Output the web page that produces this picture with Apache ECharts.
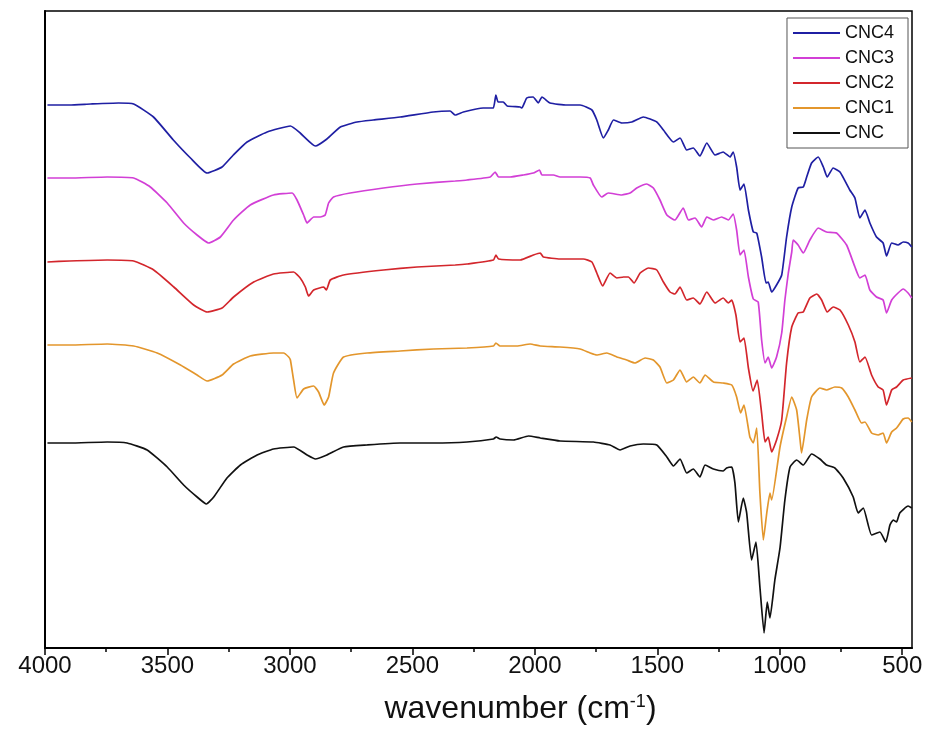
<!DOCTYPE html>
<html><head><meta charset="utf-8">
<script src="https://cdn.jsdelivr.net/npm/echarts@6/dist/echarts.min.js"></script>
<style>html,body{margin:0;padding:0;background:#fff}#c{width:927px;height:740px}</style>
</head><body><div id="c"></div>
<script>
// wavenumber (cm-1), relative transmittance (arbitrary, stacked offsets as in the figure)
const seriesNames = ['CNC4', 'CNC3', 'CNC2', 'CNC1', 'CNC'];
const majorTicks = [4000, 3500, 3000, 2500, 2000, 1500, 1000, 500];
const minorTicks = [3750, 3250, 2750, 2250, 1750, 1250, 750];

const cnc4 = [[3990,543],[3900,543],[3814,544],[3700,545],[3638,544],[3557,531],[3476,508],[3406,490],[3338,475],[3277,481],[3231,493],[3175,506],[3093,516],[2998,522],[2958,515],[2896,502],[2849,509],[2794,521],[2726,526],[2660,528],[2550,531],[2415,536],[2346,537],[2325,533],[2292,536],[2211,540],[2170,540],[2159,553],[2150,546],[2129,546],[2113,542],[2060,541],[2053,540],[2033,550],[2007,551],[1986,545],[1971,551],[1938,545],[1869,543],[1815,543],[1767,538],[1747,528],[1720,510],[1700,518],[1679,528],[1645,525],[1604,526],[1557,531],[1502,526],[1475,518],[1434,506],[1407,510],[1380,498],[1353,500],[1326,492],[1298,505],[1264,493],[1231,496],[1203,491],[1190,496],[1176,481],[1162,458],[1146,464],[1128,438],[1108,416],[1094,415],[1074,391],[1056,365],[1047,366],[1033,356],[1013,363],[992,373],[972,411],[951,441],[925,460],[904,461],[890,471],[870,485],[843,491],[822,481],[806,471],[782,480],[754,476],[714,458],[693,450],[673,430],[652,438],[632,425],[605,411],[578,405],[564,392],[543,405],[517,403],[496,406],[476,405],[461,401]];

const cnc3 = [[3990,470],[3900,470],[3746,471],[3638,470],[3570,461],[3501,445],[3434,425],[3379,413],[3332,405],[3284,411],[3230,428],[3162,443],[3067,453],[2991,455],[2971,448],[2944,433],[2930,425],[2903,431],[2876,431],[2856,433],[2842,445],[2822,451],[2754,455],[2618,460],[2481,464],[2325,467],[2277,468],[2182,471],[2162,476],[2148,471],[2101,471],[2047,473],[2006,475],[1981,478],[1971,473],[1924,473],[1897,471],[1815,471],[1774,470],[1761,463],[1727,451],[1700,455],[1645,453],[1611,455],[1584,460],[1543,464],[1516,460],[1489,448],[1461,433],[1428,428],[1394,440],[1373,428],[1346,430],[1319,421],[1298,431],[1271,428],[1237,431],[1210,428],[1190,434],[1176,418],[1162,393],[1146,398],[1128,371],[1108,349],[1088,346],[1074,308],[1060,285],[1047,291],[1033,280],[1013,291],[992,315],[979,348],[965,375],[951,396],[945,408],[925,403],[904,395],[877,408],[843,420],[809,416],[768,415],[727,403],[693,381],[673,370],[652,373],[632,358],[605,351],[578,348],[564,335],[543,348],[517,355],[496,359],[476,355],[461,350]];

const cnc2 = [[3990,386],[3900,387],[3746,388],[3638,387],[3556,378],[3474,361],[3393,343],[3338,336],[3277,340],[3230,351],[3148,366],[3067,374],[2985,376],[2958,370],[2937,361],[2924,352],[2903,358],[2862,361],[2851,358],[2835,368],[2781,373],[2618,378],[2481,381],[2325,383],[2277,384],[2169,388],[2159,393],[2148,389],[2060,388],[2006,393],[1978,395],[1965,391],[1897,389],[1802,389],[1767,386],[1747,375],[1723,362],[1693,375],[1665,370],[1638,371],[1618,371],[1595,365],[1570,375],[1536,380],[1502,378],[1475,366],[1448,356],[1428,354],[1407,361],[1380,348],[1353,350],[1326,344],[1298,356],[1264,345],[1231,350],[1210,345],[1196,348],[1179,333],[1162,306],[1146,310],[1128,280],[1109,257],[1092,268],[1074,235],[1060,206],[1047,211],[1033,196],[1013,208],[992,228],[972,285],[951,321],[925,335],[904,336],[877,350],[849,354],[829,348],[806,336],[782,341],[754,338],[720,323],[693,306],[673,286],[652,291],[625,273],[598,261],[578,258],[564,243],[543,258],[523,261],[496,268],[461,270]];

const cnc1 = [[3990,303],[3900,303],[3746,304],[3638,302],[3542,295],[3447,283],[3379,273],[3338,267],[3277,273],[3230,284],[3162,292],[3067,295],[3026,295],[3005,291],[2998,288],[2985,268],[2971,250],[2944,259],[2903,262],[2883,256],[2860,243],[2842,251],[2822,275],[2781,291],[2685,295],[2550,297],[2414,299],[2277,300],[2169,302],[2159,305],[2142,302],[2073,302],[2019,304],[1978,302],[1897,301],[1815,299],[1774,295],[1747,293],[1706,295],[1665,291],[1625,288],[1591,285],[1550,290],[1516,288],[1489,281],[1461,265],[1434,268],[1407,278],[1380,266],[1353,271],[1326,265],[1305,273],[1271,266],[1231,265],[1196,263],[1176,251],[1160,235],[1146,243],[1122,211],[1108,205],[1094,220],[1081,155],[1067,108],[1053,135],[1040,155],[1033,148],[999,201],[972,231],[951,251],[931,238],[917,208],[911,195],[890,228],[870,251],[836,260],[809,258],[775,261],[747,260],[720,251],[693,238],[666,225],[652,226],[625,215],[598,213],[578,215],[564,205],[543,216],[523,220],[496,229],[476,230],[461,226]];

const cnc = [[3990,205],[3900,205],[3746,206],[3665,205],[3583,198],[3501,181],[3434,163],[3379,151],[3341,144],[3311,151],[3257,170],[3202,183],[3134,193],[3067,199],[2985,201],[2930,193],[2896,189],[2849,193],[2781,201],[2685,203],[2550,205],[2414,205],[2277,206],[2169,209],[2158,211],[2142,209],[2087,208],[2026,212],[1978,210],[1897,207],[1761,206],[1693,203],[1652,198],[1611,202],[1557,204],[1502,203],[1461,191],[1434,182],[1407,189],[1380,175],[1353,179],[1326,171],[1305,183],[1271,179],[1231,177],[1217,180],[1196,181],[1183,165],[1169,126],[1149,150],[1135,135],[1115,88],[1097,106],[1081,61],[1064,15],[1051,46],[1040,30],[1020,68],[999,100],[979,148],[958,181],[931,188],[904,183],[870,194],[836,189],[809,183],[775,180],[741,170],[700,151],[680,135],[659,140],[625,113],[591,116],[567,106],[550,123],[537,128],[523,126],[510,135],[476,142],[461,140]];

const seriesData = [cnc4, cnc3, cnc2, cnc1, cnc];
const seriesColors = ['#1f1fa3', '#d23fd6', '#d3262c', '#e3962c', '#111111'];

const chart = echarts.init(document.getElementById('c'), null, {renderer: 'canvas'});
const font = 'Liberation Sans, Arial, sans-serif';
chart.setOption({
  animation: false,
  backgroundColor: '#fff',
  grid: {left: 45, right: 15, top: 11, bottom: 92, show: true, borderColor: '#000', borderWidth: 1.5, containLabel: false},
  legend: {
    data: seriesNames, orient: 'vertical', right: 19, top: 18,
    icon: 'rect', itemWidth: 47, itemHeight: 2, itemGap: 7,
    padding: [6, 14, 6, 6],
    borderColor: '#555', borderWidth: 1, backgroundColor: '#fff',
    textStyle: {fontSize: 18, color: '#111', fontFamily: font}
  },
  xAxis: [{
    type: 'value', inverse: true, min: 460, max: 4000,
    axisLine: {show: true, lineStyle: {color: '#000', width: 2}},
    axisTick: {show: true, inside: false, length: 7, lineStyle: {color: '#000', width: 1.5}, customValues: majorTicks},
    axisLabel: {show: true, customValues: majorTicks, formatter: v => String(v), fontSize: 24, color: '#111', fontFamily: font, margin: 6},
    splitLine: {show: false},
    name: 'wavenumber (cm{sup|-1})', nameLocation: 'middle', nameGap: 45,
    nameTextStyle: {fontSize: 32, color: '#111', fontFamily: font, padding: [0, 0, 0, 84],
      rich: {sup: {fontSize: 18, color: '#111', fontFamily: font, verticalAlign: 'top', padding: [0, 0, 14, 0]}}}
  }, {
    type: 'value', inverse: true, min: 460, max: 4000, position: 'bottom',
    axisLine: {show: false},
    axisTick: {show: true, inside: false, length: 4, lineStyle: {color: '#000', width: 1.5}, customValues: minorTicks},
    axisLabel: {show: false},
    splitLine: {show: false}
  }],
  yAxis: {
    type: 'value', min: 0, max: 637,
    axisLine: {show: true, lineStyle: {color: '#000', width: 2}},
    axisTick: {show: false}, axisLabel: {show: false}, splitLine: {show: false}
  },
  series: seriesNames.map((n, i) => ({
    name: n, type: 'line', data: seriesData[i], xAxisIndex: 0,
    symbol: 'none', showSymbol: false, smooth: 0.15,
    lineStyle: {color: seriesColors[i], width: 1.7},
    itemStyle: {color: seriesColors[i]}
  }))
});
</script></body></html>
